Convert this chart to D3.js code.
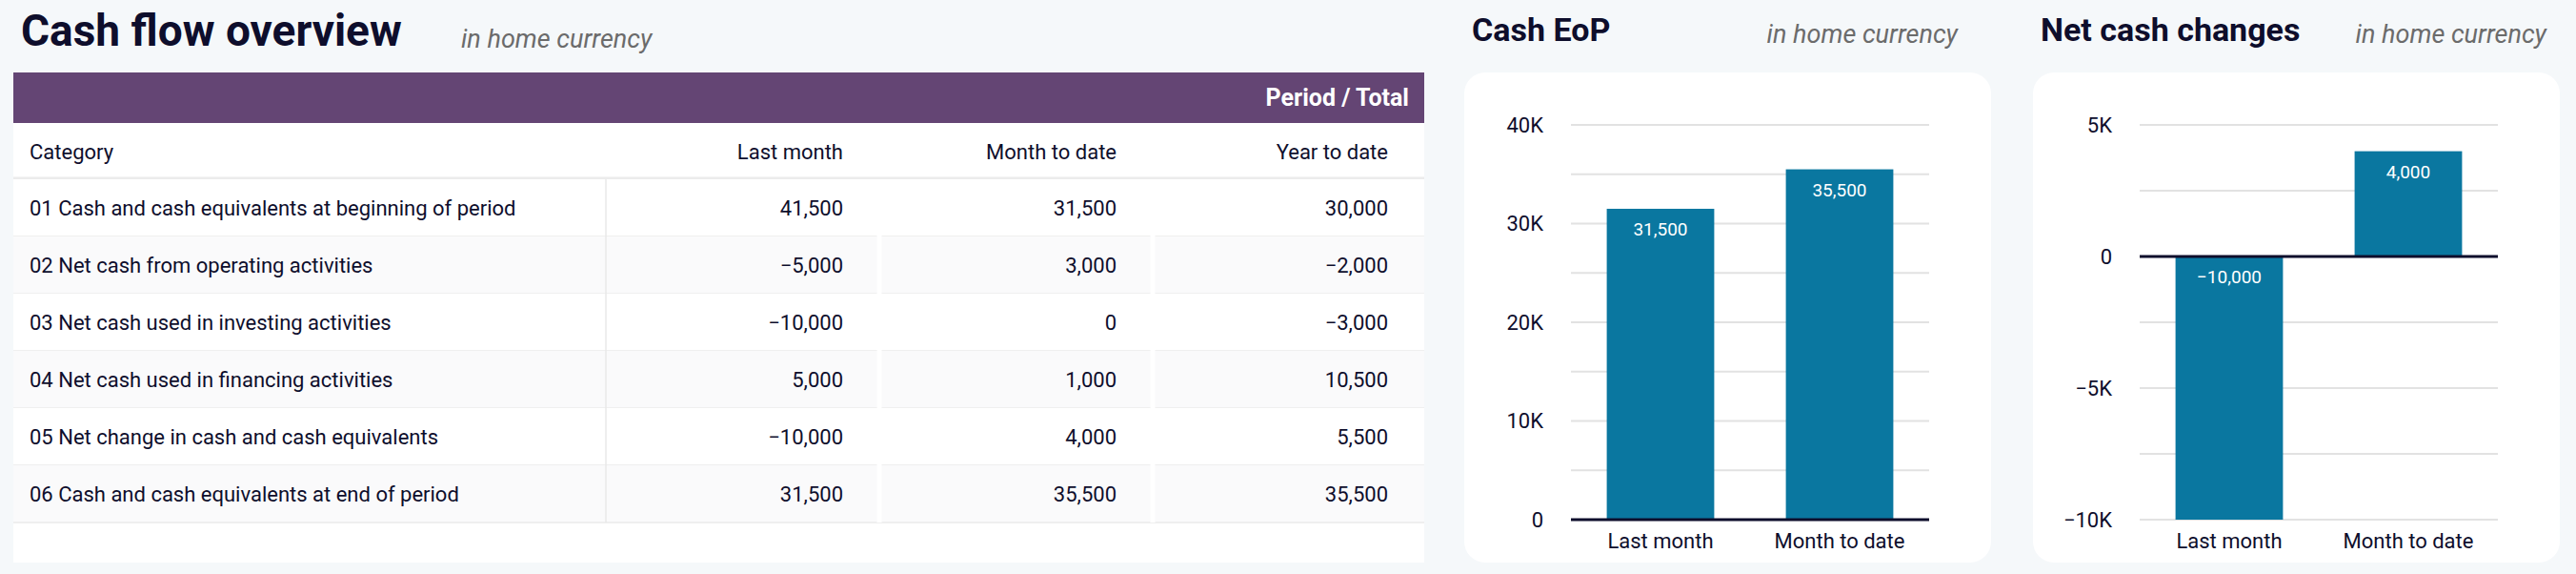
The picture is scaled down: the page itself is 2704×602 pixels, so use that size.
<!DOCTYPE html>
<html lang="en">
<head>
<meta charset="UTF-8">
<title>Cash flow overview</title>
<script src="https://d3js.org/d3.v7.min.js"></script>
<style>
  body { margin: 0; background: #f5f8fa; font-family: Roboto, sans-serif; }
</style>
</head>
<body>
<svg id="main" width="2704" height="602"></svg>
<script>
const columns = ["Last month", "Month to date", "Year to date"];
const categories = [
  "01 Cash and cash equivalents at beginning of period",
  "02 Net cash from operating activities",
  "03 Net cash used in investing activities",
  "04 Net cash used in financing activities",
  "05 Net change in cash and cash equivalents",
  "06 Cash and cash equivalents at end of period"
];
const lastMonth = [41500, -5000, -10000, 5000, -10000, 31500];
const monthToDate = [31500, 3000, 0, 1000, 4000, 35500];
const yearToDate = [30000, -2000, -3000, 10500, 5500, 35500];

const barCategories = ["Last month", "Month to date"];
const cashEop = [31500, 35500];
const netChanges = [-10000, 4000];
const eopTicks = [0, 10000, 20000, 30000, 40000];
const netTicks = [-10000, -5000, 0, 5000];

const ink = "#0e0e2c", grey = "#6b6b6b", barColor = "#0a77a0";
const fmt = d3.format(",");
const svg = d3.select("#main");

function heading(x, y, title, subX, anchor) {
  svg.append("text").attr("x", x).attr("y", y).attr("fill", ink)
    .attr("font-size", title === "Cash flow overview" ? 46 : 34).attr("font-weight", 700).text(title);
  svg.append("text").attr("x", subX).attr("y", y + 2).attr("fill", grey)
    .attr("font-size", 27).attr("font-style", "italic").attr("text-anchor", anchor).text("in home currency");
}

// ---- table ----
heading(22, 48, "Cash flow overview", 484, "start");
const tx = 14, tw = 1481;
svg.append("rect").attr("x", tx).attr("y", 76).attr("width", tw).attr("height", 514).attr("fill", "#fff");
svg.append("rect").attr("x", tx).attr("y", 76).attr("width", tw).attr("height", 53).attr("fill", "#644574");
svg.append("text").attr("x", 1479).attr("y", 111).attr("text-anchor", "end").attr("fill", "#fff")
  .attr("font-size", 25).attr("font-weight", 700).text("Period / Total");

const colRight = [885, 1172, 1457];
const colLeft = [636, 923, 1210];
const rowY = d3.scaleBand().domain(d3.range(categories.length)).range([188, 548]);
svg.append("text").attr("x", 31).attr("y", 167).attr("fill", ink).attr("font-size", 22).text("Category");
columns.forEach((c, i) => svg.append("text").attr("x", colRight[i]).attr("y", 167)
  .attr("text-anchor", "end").attr("fill", ink).attr("font-size", 22).text(c));
svg.append("line").attr("x1", tx).attr("x2", tx + tw).attr("y1", 187).attr("y2", 187).attr("stroke", "#ececec").attr("stroke-width", 3);

const rows = categories.map((c, i) => ({ c, v: [lastMonth[i], monthToDate[i], yearToDate[i]], i }));
const g = svg.selectAll("g.row").data(rows).enter().append("g").attr("class", "row")
  .attr("transform", d => `translate(0,${rowY(d.i)})`);
g.append("rect").attr("x", tx).attr("width", tw).attr("height", rowY.bandwidth())
  .attr("fill", d => d.i % 2 ? "#fafafb" : "#fff");
g.append("line").attr("x1", tx).attr("x2", tx + tw).attr("y1", rowY.bandwidth()).attr("y2", rowY.bandwidth())
  .attr("stroke", "#efefef").attr("stroke-width", 2);
colLeft.forEach(x => g.append("line").attr("x1", x).attr("x2", x).attr("y1", 0).attr("y2", rowY.bandwidth())
  .attr("stroke", x === 636 ? "#e8e8e8" : "#fff").attr("stroke-width", x === 636 ? 1.5 : 5));
g.append("text").attr("x", 31).attr("y", 38).attr("fill", ink).attr("font-size", 22).text(d => d.c);
columns.forEach((c, j) => g.append("text").attr("x", colRight[j]).attr("y", 38)
  .attr("text-anchor", "end").attr("fill", ink).attr("font-size", 22).text(d => fmt(d.v[j])));

// ---- bar charts ----
function barChart(opt) {
  svg.append("rect").attr("x", opt.px).attr("y", 76).attr("width", opt.pw).attr("height", 514)
    .attr("rx", 22).attr("fill", "#fff");
  heading(opt.px + 8, 43, opt.title, opt.subEnd, "end");
  const x = d3.scaleBand().domain(barCategories).range([opt.x0, opt.x1]).paddingInner(0.4).paddingOuter(0.2);
  const y = d3.scaleLinear().domain(opt.domain).range([545, 131]);
  svg.append("g").selectAll("line").data(opt.grid).enter().append("line")
    .attr("x1", opt.x0).attr("x2", opt.x1).attr("y1", d => y(d)).attr("y2", d => y(d))
    .attr("stroke", "#e2e2e2").attr("stroke-width", 2);
  const ya = svg.append("g").attr("transform", `translate(${opt.x0 - 26},0)`)
    .call(d3.axisLeft(y).tickValues(opt.ticks).tickSize(0).tickFormat(d => d === 0 ? "0" : d3.format("~s")(d).replace("k", "K")));
  ya.select(".domain").remove();
  ya.selectAll("text").attr("font-size", 22).attr("fill", ink).attr("font-family", "Roboto");
  svg.append("g").selectAll("rect").data(opt.values).enter().append("rect")
    .attr("x", (d, i) => x(barCategories[i])).attr("width", x.bandwidth())
    .attr("y", d => y(Math.max(0, d))).attr("height", d => Math.abs(y(d) - y(0)))
    .attr("fill", barColor);
  svg.append("g").selectAll("text").data(opt.values).enter().append("text")
    .attr("x", (d, i) => x(barCategories[i]) + x.bandwidth() / 2)
    .attr("y", d => (d >= 0 ? y(d) : y(0)) + 28).attr("text-anchor", "middle")
    .attr("fill", "#fff").attr("font-size", 19).text(d => fmt(d));
  svg.append("line").attr("x1", opt.x0).attr("x2", opt.x1).attr("y1", y(0)).attr("y2", y(0))
    .attr("stroke", ink).attr("stroke-width", 3);
  svg.append("g").selectAll("text").data(barCategories).enter().append("text")
    .attr("x", d => x(d) + x.bandwidth() / 2).attr("y", 575).attr("text-anchor", "middle")
    .attr("fill", ink).attr("font-size", 22).text(d => d);
}

barChart({ px: 1537, pw: 553, x0: 1649, x1: 2025, title: "Cash EoP", subEnd: 2055,
  domain: [0, 40000], ticks: eopTicks, grid: d3.range(5000, 40001, 5000), values: cashEop });
barChart({ px: 2134, pw: 553, x0: 2246, x1: 2622, title: "Net cash changes", subEnd: 2673,
  domain: [-10000, 5000], ticks: netTicks, grid: [-10000, -7500, -5000, -2500, 2500, 5000], values: netChanges });
</script>
</body>
</html>
